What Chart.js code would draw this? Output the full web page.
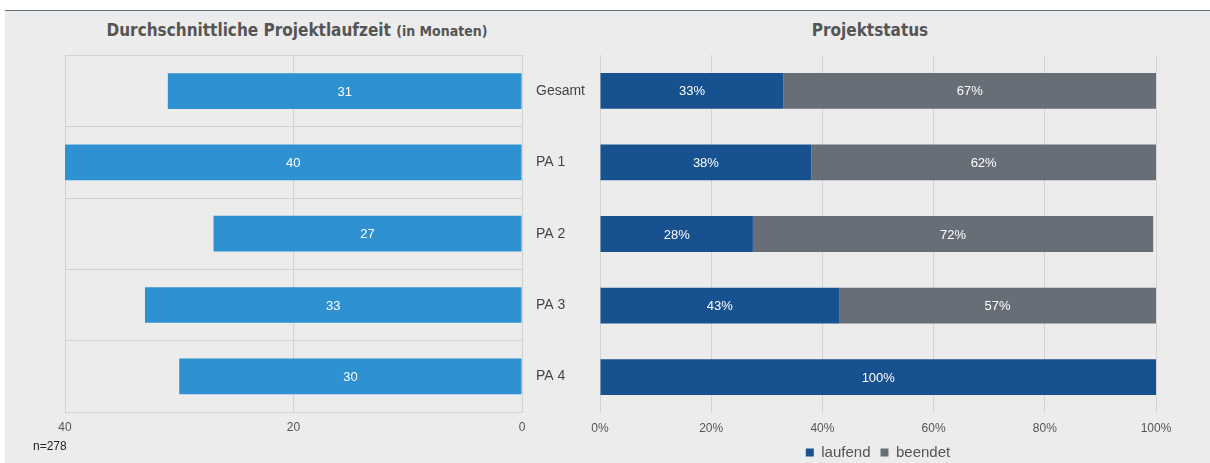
<!DOCTYPE html>
<html lang="de">
<head>
<meta charset="utf-8">
<script src="https://cdn.jsdelivr.net/npm/chart.js@4"></script>
<style>
  html, body { margin: 0; padding: 0; background: #fff; }
  body { width: 1210px; height: 463px; position: relative; overflow: hidden;
         font-family: "Liberation Sans", Arial, sans-serif; }
  .topline { position: absolute; left: 5px; top: 10px; width: 1205px; height: 1px; background: #5f6f80; }
  .panel { position: absolute; left: 5px; top: 11px; width: 1205px; height: 452px; background: #ececec; }
  .title { position: absolute; top: 20px; font-family: "Liberation Sans Narrow", "DejaVu Sans Condensed", sans-serif;
           font-weight: bold; font-size: 17px; color: #555; white-space: nowrap; transform: translateX(-50%); }
  .title small { font-size: 14px; }
  .box { position: absolute; height: 430px; }
  .note { position: absolute; left: 33px; top: 439px; font-size: 12px; color: #222; }
</style>
</head>
<body>
<div class="topline"></div>
<div class="panel"></div>
<div class="title" style="left:297px">Durchschnittliche Projektlaufzeit <small>(in Monaten)</small></div>
<div class="title" style="left:870px">Projektstatus</div>
<div class="box" style="left:0;top:33px;width:600px"><canvas id="laufzeit"></canvas></div>
<div class="box" style="left:580px;top:45px;width:630px"><canvas id="status"></canvas></div>
<div class="note">n=278</div>

<script>
const categories = ["Gesamt", "PA 1", "PA 2", "PA 3", "PA 4"];
const laufzeitMonate = [31, 40, 27, 33, 30];
const statusLaufend = [33, 38, 27.5, 43, 100];
const statusBeendet = [67, 62, 72, 57, 0];
const laufzeitTicks = [0, 20, 40];

const gridColor = "#d2d2d2";
const tickColor = "#555";

// white numbers in the middle of each bar
const barLabels = {
  id: "barLabels",
  afterDatasetsDraw(chart, args, opts) {
    const ctx = chart.ctx;
    ctx.save();
    ctx.fillStyle = "#fff";
    ctx.font = "13px 'Liberation Sans', Arial, sans-serif";
    ctx.textAlign = "center";
    ctx.textBaseline = "middle";
    chart.data.datasets.forEach((ds, i) => {
      const meta = chart.getDatasetMeta(i);
      meta.data.forEach((bar, j) => {
        const v = ds.data[j];
        if (!v) return;
        const p = bar.getProps(["x", "y", "base"], true);
        ctx.fillText(Math.round(v) + (opts.suffix || ""), (p.x + p.base) / 2, p.y + 1);
      });
    });
    ctx.restore();
  },
};

new Chart(document.getElementById("laufzeit"), {
  type: "bar",
  data: {
    labels: categories,
    datasets: [
      {
        label: "Laufzeit",
        data: laufzeitMonate,
        backgroundColor: "#2e91d1",
        categoryPercentage: 0.5,
        barPercentage: 1,
      },
    ],
  },
  options: {
    indexAxis: "y",
    responsive: true,
    maintainAspectRatio: false,
    animation: false,
    layout: { padding: { left: 65, right: 0, top: 10, bottom: 29 } },
    scales: {
      x: {
        reverse: true,
        min: 0,
        max: 40,
        afterBuildTicks: (scale) => {
          scale.ticks = laufzeitTicks.map((v) => ({ value: v }));
        },
        afterFit: (scale) => {
          scale.height = 22;
        },
        grid: { color: gridColor, drawTicks: false },
        border: { display: false },
        ticks: { color: tickColor, padding: 8, font: { size: 12 } },
      },
      y: {
        position: "right",
        afterFit: (scale) => {
          scale.width = 78;
        },
        grid: { color: gridColor, drawTicks: false, offset: true },
        border: { color: gridColor },
        ticks: { color: "#444", padding: 14, font: { size: 14 } },
      },
    },
    plugins: {
      legend: { display: false },
      tooltip: { enabled: false },
      barLabels: { suffix: "" },
    },
  },
  plugins: [barLabels],
});

new Chart(document.getElementById("status"), {
  type: "bar",
  data: {
    labels: categories,
    datasets: [
      {
        label: "laufend",
        data: statusLaufend,
        backgroundColor: "#17518f",
        categoryPercentage: 0.5,
        barPercentage: 1,
      },
      {
        label: "beendet",
        data: statusBeendet,
        backgroundColor: "#686e78",
        categoryPercentage: 0.5,
        barPercentage: 1,
      },
    ],
  },
  options: {
    indexAxis: "y",
    responsive: true,
    maintainAspectRatio: false,
    animation: false,
    layout: { padding: { left: 20, right: 54, top: 10, bottom: 5 } },
    scales: {
      x: {
        stacked: true,
        min: 0,
        max: 100,
        afterFit: (scale) => {
          scale.height = 22;
        },
        grid: { color: gridColor, drawTicks: false },
        border: { display: false },
        ticks: {
          stepSize: 20,
          color: tickColor,
          padding: 8,
          font: { size: 12 },
          callback: (v) => v + "%",
        },
      },
      y: {
        stacked: true,
        display: false,
      },
    },
    plugins: {
      legend: {
        position: "bottom",
        labels: {
          boxWidth: 8,
          boxHeight: 8,
          padding: 10,
          color: "#555",
          font: { size: 15 },
        },
      },
      tooltip: { enabled: false },
      barLabels: { suffix: "%" },
    },
  },
  plugins: [barLabels],
});
</script>
</body>
</html>
